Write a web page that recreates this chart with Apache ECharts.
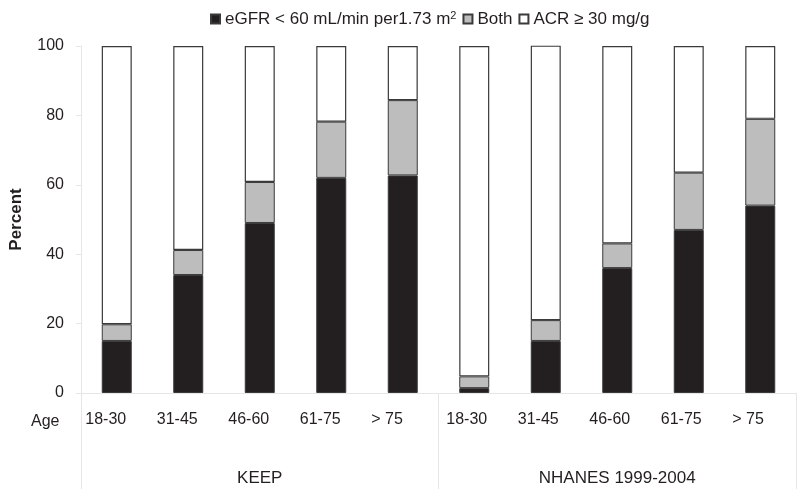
<!DOCTYPE html>
<html>
<head>
<meta charset="utf-8">
<script src="https://cdn.jsdelivr.net/npm/echarts@6/dist/echarts.min.js"></script>
<style>html,body{margin:0;padding:0;background:#fff}#c{width:800px;height:495px}</style>
</head>
<body>
<div id="c"></div>
<script>
const ageGroups = ['18-30', '31-45', '46-60', '61-75', '> 75', '18-30', '31-45', '46-60', '61-75', '> 75'];
const cohorts = ['KEEP', 'NHANES 1999-2004'];
const egfrOnly = [15, 34, 49, 62, 62.7, 1.4, 15, 36, 47, 54];
const both = [4.8, 7.2, 11.8, 16.2, 21.7, 3.4, 6, 7.1, 16.5, 25];
const acrOnly = [80.2, 58.8, 39.2, 21.8, 15.6, 95.2, 79.1, 56.9, 36.5, 21];
const yTicks = { min: 0, max: 100, interval: 20 };

const FONT = 'Arial, "Liberation Sans", sans-serif';
const TXT = '#231f20';
const AXIS = '#e6e6e6';
const EDGE = '#3a3a3a';

const chart = echarts.init(document.getElementById('c'), null, { renderer: 'canvas' });
chart.setOption({
  animation: false,
  backgroundColor: '#fff',
  textStyle: { fontFamily: FONT },
  title: [{
    text: 'Age', left: 26, top: 409,
    textStyle: { fontFamily: FONT, fontSize: 16, fontWeight: 'normal', color: TXT }
  }],
  legend: {
    top: 5, left: 205,
    icon: 'rect', itemWidth: 9, itemHeight: 9, itemGap: 6,
    textStyle: {
      fontFamily: FONT, fontSize: 17, color: TXT,
      rich: { sup: { fontSize: 11, verticalAlign: 'top', padding: [0, 0, 7, 0], fontFamily: FONT, color: TXT } }
    },
    formatter: function (n) { return n === 'eGFR' ? 'eGFR < 60 mL/min per1.73 m{sup|2}' : n; },
    data: ['eGFR', 'Both', 'ACR ≥ 30 mg/g']
  },
  grid: { left: 76, right: 4, top: 46, bottom: 102 },
  xAxis: [{
    type: 'category', data: ageGroups, position: 'bottom',
    axisLine: { show: true, lineStyle: { color: AXIS, width: 1 } },
    axisTick: { show: false },
    axisLabel: {
      margin: 19, fontSize: 16, color: TXT, fontFamily: FONT, interval: 0,
      formatter: function (v, i) { return (i < 5 ? '{k|' : '{n|') + v + '}'; },
      rich: {
        k: { width: 63, align: 'left', fontSize: 16, color: TXT, fontFamily: FONT },
        n: { width: 56, align: 'left', fontSize: 16, color: TXT, fontFamily: FONT }
      }
    }
  }, {
    type: 'category', data: cohorts, position: 'bottom', gridIndex: 0,
    axisLine: { show: false },
    axisTick: { show: true, length: 96, lineStyle: { color: AXIS, width: 1 } },
    axisLabel: { margin: 77, fontSize: 17, color: TXT, fontFamily: FONT }
  }],
  yAxis: {
    type: 'value', min: yTicks.min, max: yTicks.max, interval: yTicks.interval,
    name: 'Percent', nameLocation: 'middle', nameGap: 56, nameRotate: 90,
    nameTextStyle: { fontFamily: FONT, fontSize: 17, fontWeight: 'bold', color: TXT },
    axisLine: { show: true, lineStyle: { color: AXIS, width: 1 } },
    axisTick: { show: true, length: 5, lineStyle: { color: AXIS } },
    splitLine: { show: false },
    axisLabel: { margin: 17, fontSize: 16, color: TXT, fontFamily: FONT }
  },
  series: [{
    name: 'eGFR', type: 'bar', stack: 's', barWidth: 30, xAxisIndex: 0,
    data: egfrOnly,
    itemStyle: { color: '#231f20', borderColor: EDGE, borderWidth: 1 }
  }, {
    name: 'Both', type: 'bar', stack: 's', barWidth: 30, xAxisIndex: 0,
    data: both,
    itemStyle: { color: '#bdbdbd', borderColor: EDGE, borderWidth: 1 }
  }, {
    name: 'ACR ≥ 30 mg/g', type: 'bar', stack: 's', barWidth: 30, xAxisIndex: 0,
    data: acrOnly,
    itemStyle: { color: '#ffffff', borderColor: EDGE, borderWidth: 1.2 }
  }]
});
</script>
</body>
</html>
